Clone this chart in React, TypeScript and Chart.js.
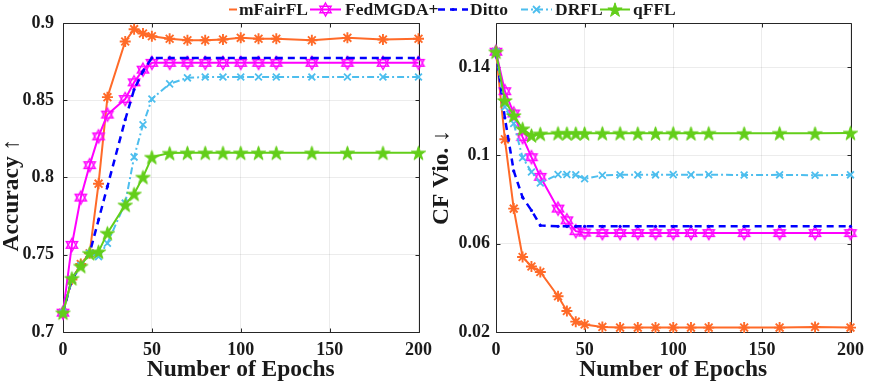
import React, { useEffect, useRef } from 'react';
import { Chart, registerables } from 'chart.js';

Chart.register(...registerables);

// ---------------- data ----------------
const epochs = [0, 5, 10, 15, 20, 25, 35, 40, 45, 50, 60, 70, 80, 90, 100, 110, 120, 140, 160, 180, 200];
const xTickValues = [0, 50, 100, 150, 200];
const accTickValues = [0.7, 0.75, 0.8, 0.85, 0.9];
const cfTickValues = [0.02, 0.06, 0.1, 0.14];
const methodNames = ['mFairFL', 'FedMGDA+', 'Ditto', 'DRFL', 'qFFL'];

const accMFairFL = [0.7125, 0.734, 0.744, 0.751, 0.796, 0.852, 0.888, 0.896, 0.8932, 0.8914, 0.8898, 0.8888, 0.8888, 0.8893, 0.8904, 0.8898, 0.8898, 0.8888, 0.8904, 0.8893, 0.8898];
const accFedMGDA = [0.7125, 0.7564, 0.787, 0.808, 0.8266, 0.8407, 0.8508, 0.8616, 0.8698, 0.8742, 0.8742, 0.8742, 0.8742, 0.8742, 0.8742, 0.8742, 0.8742, 0.8742, 0.8742, 0.8742, 0.8742];
const accDitto = [0.7125, 0.734, 0.743, 0.751, 0.7726, 0.7942, 0.8374, 0.8569, 0.8687, 0.8774, 0.8774, 0.8774, 0.8774, 0.8774, 0.8774, 0.8774, 0.8774, 0.8774, 0.8774, 0.8774, 0.8774];
const accDRFL = [0.7125, 0.734, 0.743, 0.751, 0.7488, 0.7575, 0.7834, 0.8132, 0.8342, 0.8508, 0.8606, 0.8645, 0.865, 0.865, 0.865, 0.865, 0.865, 0.865, 0.865, 0.865, 0.865];
const accQFFL = [0.7125, 0.7348, 0.7427, 0.751, 0.752, 0.764, 0.7823, 0.7894, 0.8003, 0.8132, 0.8158, 0.816, 0.816, 0.816, 0.816, 0.816, 0.816, 0.816, 0.816, 0.816, 0.816];

const cfMFairFL = [0.147, 0.1073, 0.0759, 0.054, 0.0497, 0.0472, 0.0362, 0.0295, 0.0247, 0.0234, 0.0223, 0.022, 0.022, 0.022, 0.022, 0.022, 0.022, 0.022, 0.022, 0.0223, 0.022];
const cfFedMGDA = [0.147, 0.1291, 0.119, 0.1083, 0.0992, 0.0903, 0.0759, 0.0706, 0.0657, 0.065, 0.0648, 0.0648, 0.0648, 0.0648, 0.0648, 0.0648, 0.0648, 0.0648, 0.0648, 0.0648, 0.0648];
const cfDitto = [0.147, 0.117, 0.093, 0.081, 0.0751, 0.0683, 0.0679, 0.0679, 0.0679, 0.0679, 0.0679, 0.0679, 0.0679, 0.0679, 0.0679, 0.0679, 0.0679, 0.0679, 0.0679, 0.0679, 0.0679];
const cfDRFL = [0.147, 0.1219, 0.1145, 0.099, 0.0925, 0.0875, 0.0914, 0.0914, 0.0912, 0.0894, 0.091, 0.0912, 0.0912, 0.0912, 0.0913, 0.0912, 0.0913, 0.0911, 0.0912, 0.091, 0.0912];
const cfQFFL = [0.147, 0.1249, 0.1181, 0.1121, 0.1091, 0.1098, 0.1101, 0.11, 0.11, 0.11, 0.1101, 0.1101, 0.11, 0.11, 0.1101, 0.11, 0.1101, 0.11, 0.1101, 0.11, 0.1102];

// ---------------- styles ----------------
const ORANGE = '#FF6A28';
const MAGENTA = '#FF00FF';
const BLUE = '#0000FF';
const CYAN = '#4DBEEE';
const GREEN = '#63CE1A';
const TEXT = '#1a1a1a';
const FONT = '"Liberation Serif", "Times New Roman", serif';
const NBSP = '\u00A0';

function makeHexagram(color: string, R: number, lw: number) {
  const size = Math.ceil(2 * R + lw * 2 + 2);
  const c = document.createElement('canvas');
  c.width = size;
  c.height = size;
  const ctx = c.getContext('2d')!;
  const cx = size / 2, cy = size / 2;
  ctx.strokeStyle = color;
  ctx.lineWidth = lw;
  for (const start of [-90, 90]) {
    ctx.beginPath();
    for (let k = 0; k < 3; k++) {
      const a = ((start + k * 120) * Math.PI) / 180;
      const x = cx + R * Math.cos(a), y = cy + R * Math.sin(a);
      if (k) ctx.lineTo(x, y); else ctx.moveTo(x, y);
    }
    ctx.closePath();
    ctx.stroke();
  }
  return c;
}

function pentagramPoints(cx: number, cy: number, R: number) {
  const pts: [number, number][] = [];
  const r = R * 0.382;
  for (let k = 0; k < 10; k++) {
    const a = ((-90 + k * 36) * Math.PI) / 180;
    const rr = k % 2 === 0 ? R : r;
    pts.push([cx + rr * Math.cos(a), cy + rr * Math.sin(a)]);
  }
  return pts;
}

function makePentagram(color: string, R: number) {
  const size = Math.ceil(2 * R + 4);
  const c = document.createElement('canvas');
  c.width = size;
  c.height = size;
  const ctx = c.getContext('2d')!;
  const pts = pentagramPoints(size / 2, size / 2 + 0.8, R);
  ctx.beginPath();
  pts.forEach(([x, y], i) => (i ? ctx.lineTo(x, y) : ctx.moveTo(x, y)));
  ctx.closePath();
  ctx.fillStyle = color;
  ctx.strokeStyle = color;
  ctx.lineWidth = 1;
  ctx.fill();
  ctx.stroke();
  return c;
}

const framePlugin = {
  id: 'matlabFrame',
  beforeDatasetsDraw(chart: any, _args: any, opts: any) {
    const { ctx, chartArea: a, scales } = chart;
    const L = Math.round(a.left) + 0.5, T = Math.round(a.top) + 0.5;
    const R = Math.round(a.right) + 0.5, B = Math.round(a.bottom) + 0.5;
    ctx.save();
    ctx.strokeStyle = '#262626';
    ctx.lineWidth = 1;
    ctx.beginPath();
    ctx.moveTo(L, T); ctx.lineTo(R, T); ctx.lineTo(R, B); ctx.lineTo(L, B); ctx.closePath();
    const tl = 4;
    for (const v of opts.xTicks || []) {
      const x = Math.round(scales.x.getPixelForValue(v)) + 0.5;
      ctx.moveTo(x, B); ctx.lineTo(x, B - tl);
      ctx.moveTo(x, T); ctx.lineTo(x, T + tl);
    }
    for (const v of opts.yTicks || []) {
      const y = Math.round(scales.y.getPixelForValue(v)) + 0.5;
      ctx.moveTo(L, y); ctx.lineTo(L + tl, y);
      ctx.moveTo(R, y); ctx.lineTo(R - tl, y);
    }
    ctx.stroke();
    ctx.restore();
  },
};

function buildDatasets(values: number[][], hex: HTMLCanvasElement, star: HTMLCanvasElement) {
  const styles: any[] = [
    { color: ORANGE, pointStyle: 'star', pointRadius: 5.5, pointBorderWidth: 1.9, borderWidth: 2, borderDash: [] },
    { color: MAGENTA, pointStyle: hex, pointRadius: 6, pointBorderWidth: 1, borderWidth: 2, borderDash: [] },
    { color: BLUE, pointStyle: 'circle', pointRadius: 1.6, pointBorderWidth: 0, borderWidth: 2.5, borderDash: [7, 5] },
    { color: CYAN, pointStyle: 'crossRot', pointRadius: 4.8, pointBorderWidth: 1.8, borderWidth: 2, borderDash: [7, 3, 2, 3] },
    { color: GREEN, pointStyle: star, pointRadius: 7, pointBorderWidth: 1, borderWidth: 2, borderDash: [] },
  ];
  return values.map((vals, i) => ({
    label: methodNames[i],
    data: epochs.map((e, j) => ({ x: e, y: vals[j] })),
    borderColor: styles[i].color,
    backgroundColor: styles[i].color,
    pointBackgroundColor: styles[i].color,
    pointBorderColor: styles[i].color,
    pointStyle: styles[i].pointStyle,
    pointRadius: styles[i].pointRadius,
    pointBorderWidth: styles[i].pointBorderWidth,
    borderWidth: styles[i].borderWidth,
    borderDash: styles[i].borderDash,
    tension: 0,
    clip: false,
    order: 5 - i,
  }));
}

function buildConfig(p: {
  values: number[][];
  yMin: number;
  yMax: number;
  yTicks: number[];
  yTitle: string;
  yAxisWidth: number;
  yTickPad: number;
  hex: HTMLCanvasElement;
  star: HTMLCanvasElement;
}): any {
  const tickFont = { family: FONT, size: 18, weight: 'bold' as const, lineHeight: 1.2 };
  const titleFont = { family: FONT, size: 23.5, weight: 'bold' as const, lineHeight: 1 };
  return {
    type: 'line',
    data: { datasets: buildDatasets(p.values, p.hex, p.star) },
    options: {
      responsive: false,
      animation: false,
      events: [],
      layout: { padding: { left: 0, right: 15, top: 23, bottom: 0 } },
      plugins: {
        legend: { display: false },
        tooltip: { enabled: false },
        matlabFrame: { xTicks: xTickValues, yTicks: p.yTicks },
      },
      scales: {
        x: {
          type: 'linear',
          min: 0,
          max: 200,
          afterBuildTicks: (s: any) => { s.ticks = xTickValues.map((v) => ({ value: v })); },
          afterFit: (s: any) => { s.height = 51; },
          grid: { color: 'rgba(0,0,0,0.075)', drawTicks: false },
          border: { display: false },
          ticks: { font: tickFont, color: TEXT, padding: 8, maxRotation: 0, callback: (v: any) => String(v) },
          title: {
            display: true,
            text: 'Number of Epochs',
            color: TEXT,
            font: titleFont,
            padding: { top: 0, bottom: 1 },
          },
        },
        y: {
          type: 'linear',
          min: p.yMin,
          max: p.yMax,
          afterBuildTicks: (s: any) => { s.ticks = p.yTicks.map((v) => ({ value: v })); },
          afterFit: (s: any) => { s.width = p.yAxisWidth; },
          grid: { color: 'rgba(0,0,0,0.075)', drawTicks: false },
          border: { display: false },
          ticks: {
            font: tickFont,
            color: TEXT,
            padding: p.yTickPad,
            callback: (v: any) => String(parseFloat(Number(v).toFixed(2))),
          },
          title: {
            display: true,
            text: p.yTitle,
            color: TEXT,
            font: titleFont,
            padding: { top: 0, bottom: 0 },
          },
        },
      },
    },
    plugins: [framePlugin],
  };
}

// ---------------- legend (HTML/SVG) ----------------
function Legend() {
  const y = 9.5;
  const starPts = pentagramPoints(615, y + 0.8, 7.5).map((p) => p.join(',')).join(' ');
  const hexTri = (cx: number, cy: number, R: number, start: number) =>
    [0, 1, 2]
      .map((k) => {
        const a = ((start + k * 120) * Math.PI) / 180;
        return `${cx + R * Math.cos(a)},${cy + R * Math.sin(a)}`;
      })
      .join(' ');
  const textStyle: React.CSSProperties = {
    position: 'absolute',
    top: 0,
    fontFamily: FONT,
    fontWeight: 'bold',
    fontSize: 17.5,
    lineHeight: '18px',
    color: TEXT,
    whiteSpace: 'nowrap',
  };
  const labels = [
    { name: methodNames[0], left: 239 },
    { name: methodNames[1], left: 345 },
    { name: methodNames[2], left: 470 },
    { name: methodNames[3], left: 555 },
    { name: methodNames[4], left: 633 },
  ];
  return (
    <>
      <svg width={872} height={22} style={{ position: 'absolute', left: 0, top: 0 }}>
        <line x1={229} y1={y} x2={237} y2={y} stroke={ORANGE} strokeWidth={2} />
        <line x1={310} y1={y} x2={341} y2={y} stroke={MAGENTA} strokeWidth={2} />
        <polygon points={hexTri(325.5, y, 6.5, -90)} fill="none" stroke={MAGENTA} strokeWidth={1.4} />
        <polygon points={hexTri(325.5, y, 6.5, 90)} fill="none" stroke={MAGENTA} strokeWidth={1.4} />
        <line x1={438} y1={y} x2={468} y2={y} stroke={BLUE} strokeWidth={2.5} strokeDasharray="7 5" />
        <circle cx={453} cy={y} r={1.6} fill={BLUE} />
        <line x1={521} y1={y} x2={552} y2={y} stroke={CYAN} strokeWidth={2} strokeDasharray="7 3 2 3" />
        <line x1={533} y1={y - 3.5} x2={540} y2={y + 3.5} stroke={CYAN} strokeWidth={1.8} />
        <line x1={533} y1={y + 3.5} x2={540} y2={y - 3.5} stroke={CYAN} strokeWidth={1.8} />
        <line x1={600} y1={y} x2={630} y2={y} stroke={GREEN} strokeWidth={2} />
        <polygon points={starPts} fill={GREEN} stroke={GREEN} strokeWidth={1} />
      </svg>
      {labels.map((l) => (
        <span key={l.name} style={{ ...textStyle, left: l.left }}>
          {l.name}
        </span>
      ))}
    </>
  );
}

// ---------------- app ----------------
export default function App() {
  const leftRef = useRef<HTMLCanvasElement>(null);
  const rightRef = useRef<HTMLCanvasElement>(null);

  useEffect(() => {
    const hex = makeHexagram(MAGENTA, 6.5, 1.4);
    const star = makePentagram(GREEN, 7.5);
    const left = new Chart(
      leftRef.current!,
      buildConfig({
        values: [accMFairFL, accFedMGDA, accDitto, accDRFL, accQFFL],
        yMin: 0.7,
        yMax: 0.9,
        yTicks: accTickValues,
        yTitle: 'Accuracy ↑' + NBSP.repeat(6),
        yAxisWidth: 63,
        yTickPad: 9,
        hex,
        star,
      })
    );
    const right = new Chart(
      rightRef.current!,
      buildConfig({
        values: [cfMFairFL, cfFedMGDA, cfDitto, cfDRFL, cfQFFL],
        yMin: 0.02,
        yMax: 0.16,
        yTicks: cfTickValues,
        yTitle: 'CF Vio. ↓',
        yAxisWidth: 66,
        yTickPad: 6,
        hex,
        star,
      })
    );
    return () => {
      left.destroy();
      right.destroy();
    };
  }, []);

  return (
    <div style={{ position: 'absolute', left: 0, top: 0, width: 872, height: 383, background: '#fff', overflow: 'hidden' }}>
      <canvas ref={leftRef} width={440} height={383} style={{ position: 'absolute', left: 0, top: 0 }} />
      <canvas ref={rightRef} width={442} height={383} style={{ position: 'absolute', left: 430, top: 0 }} />
      <Legend />
    </div>
  );
}
